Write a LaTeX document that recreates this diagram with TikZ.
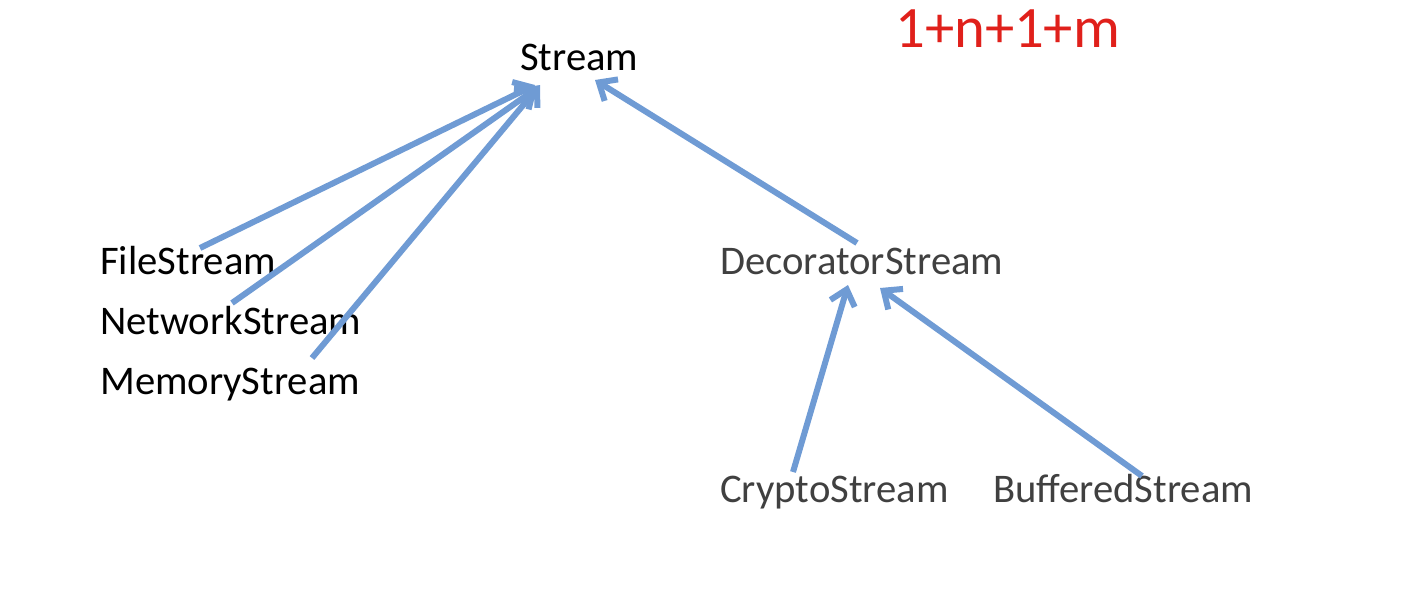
\documentclass[tikz,border=0pt]{standalone}
\usepackage{fontspec}
\setmainfont{Carlito}
\usetikzlibrary{arrows.meta}
\definecolor{arr}{HTML}{6F9BD4}
\definecolor{gry}{HTML}{404040}
\definecolor{red1}{HTML}{E0201B}
\begin{document}
\begin{tikzpicture}[x=0.75pt,y=-0.75pt,
  lbl/.style={anchor=base west,inner sep=0pt,font=\fontsize{30.5}{36}\selectfont},
  conn/.style={draw=arr,line width=4.5pt,-{Straight Barb[length=11pt,width=19pt,line width=4.5pt]}}]
\useasboundingbox (0,0) rectangle (1406,593);
\node[lbl] (stream) at (520,70) {Stream};
\node[lbl] (file) at (100,274) {FileStream};
\node[lbl] (net) at (100,334) {NetworkStream};
\node[lbl] (mem) at (100,394) {MemoryStream};
\node[lbl,text=gry] (dec) at (720,274) {DecoratorStream};
\node[lbl,text=gry] (cry) at (720,502) {CryptoStream};
\node[lbl,text=gry] (buf) at (993,502) {BufferedStream};
\node[lbl,text=red1,font=\fontsize{44}{50}\selectfont] (formula) at (895,47) {1+n+1+m};
\coordinate (s1) at (535,85);
\coordinate (s2) at (537,88);
\coordinate (s3) at (540,85);
\coordinate (s4) at (595,80);
\coordinate (f1) at (200,248);
\coordinate (n1) at (232,303);
\coordinate (m1) at (312,358);
\coordinate (d1) at (857,243);
\coordinate (d2) at (848,285);
\coordinate (d3) at (880,288);
\coordinate (c1) at (793,472);
\coordinate (b1) at (1142,476);
\draw[conn] (f1) -- (s1);
\draw[conn] (n1) -- (s2);
\draw[conn] (m1) -- (s3);
\draw[conn] (d1) -- (s4);
\draw[conn] (c1) -- (d2);
\draw[conn] (b1) -- (d3);
\end{tikzpicture}
\end{document}
